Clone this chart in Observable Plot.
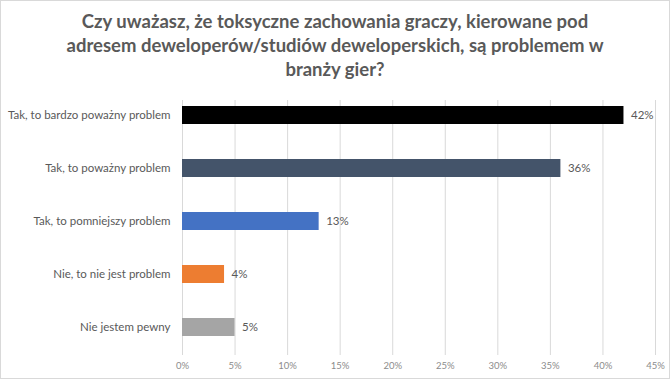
<!DOCTYPE html>
<html>
<head>
<meta charset="utf-8">
<script src="https://cdn.jsdelivr.net/npm/d3@7"></script>
<script src="https://cdn.jsdelivr.net/npm/@observablehq/plot@0.6"></script>
<style>
  html, body { margin: 0; padding: 0; background: #fff; }
  #wrap { position: relative; width: 670px; height: 379px; overflow: hidden; font-family: Lato, "Open Sans", sans-serif; }
  #frame { position: absolute; left: 0; top: 0; width: 668px; height: 377px; border: 1px solid #d9d9d9; pointer-events: none; }
  #title { height: 88px; box-sizing: border-box; padding-top: 9px; text-align: center; color: #595959; font-weight: bold; font-size: 18.5px; line-height: 24px; }
  #chart svg { display: block; }
</style>
</head>
<body>
<div id="wrap">
  <div id="title">Czy uważasz, że toksyczne zachowania graczy, kierowane pod<br>adresem deweloperów/studiów deweloperskich, są problemem w<br>branży gier?</div>
  <div id="chart"></div>
  <div id="frame"></div>
</div>
<script>
const categories = [
  "Tak, to bardzo poważny problem",
  "Tak, to poważny problem",
  "Tak, to pomniejszy problem",
  "Nie, to nie jest problem",
  "Nie jestem pewny"
];
const values = [42, 36, 13, 4, 5];
const colors = ["#000000", "#44546a", "#4472c4", "#ed7d31", "#a5a5a5"];
const xTicks = [0, 5, 10, 15, 20, 25, 30, 35, 40, 45];

const data = categories.map((c, i) => ({category: c, value: values[i], color: colors[i]}));

const chart = Plot.plot({
  width: 670,
  height: 291,
  marginLeft: 182,
  marginRight: 15,
  marginTop: 12,
  marginBottom: 24,
  style: {fontFamily: "Lato, 'Open Sans', sans-serif", background: "#fff"},
  x: {domain: [0, 45], ticks: xTicks, tickFormat: d => d + "%", label: null},
  y: {domain: categories, range: [0.5, 265.5], paddingInner: 0.66, paddingOuter: 0.33, label: null},
  marks: [
    Plot.gridX(xTicks, {stroke: "#d9d9d9", strokeOpacity: 1}),
    Plot.axisX({ticks: xTicks, tickFormat: d => d + "%", tickSize: 0, tickPadding: 7, fontSize: 9.5, color: "#8c8c8c", label: null}),
    Plot.axisY({tickSize: 0, tickPadding: 12, fontSize: 11.5, color: "#595959", label: null}),
    Plot.barX(data, {x: "value", y: "category", fill: d => d.color}),
    Plot.text(data, {x: "value", y: "category", text: d => d.value + "%", textAnchor: "start", dx: 7, fontSize: 11.5, fill: "#595959"})
  ]
});
document.getElementById("chart").appendChild(chart);
</script>
</body>
</html>
